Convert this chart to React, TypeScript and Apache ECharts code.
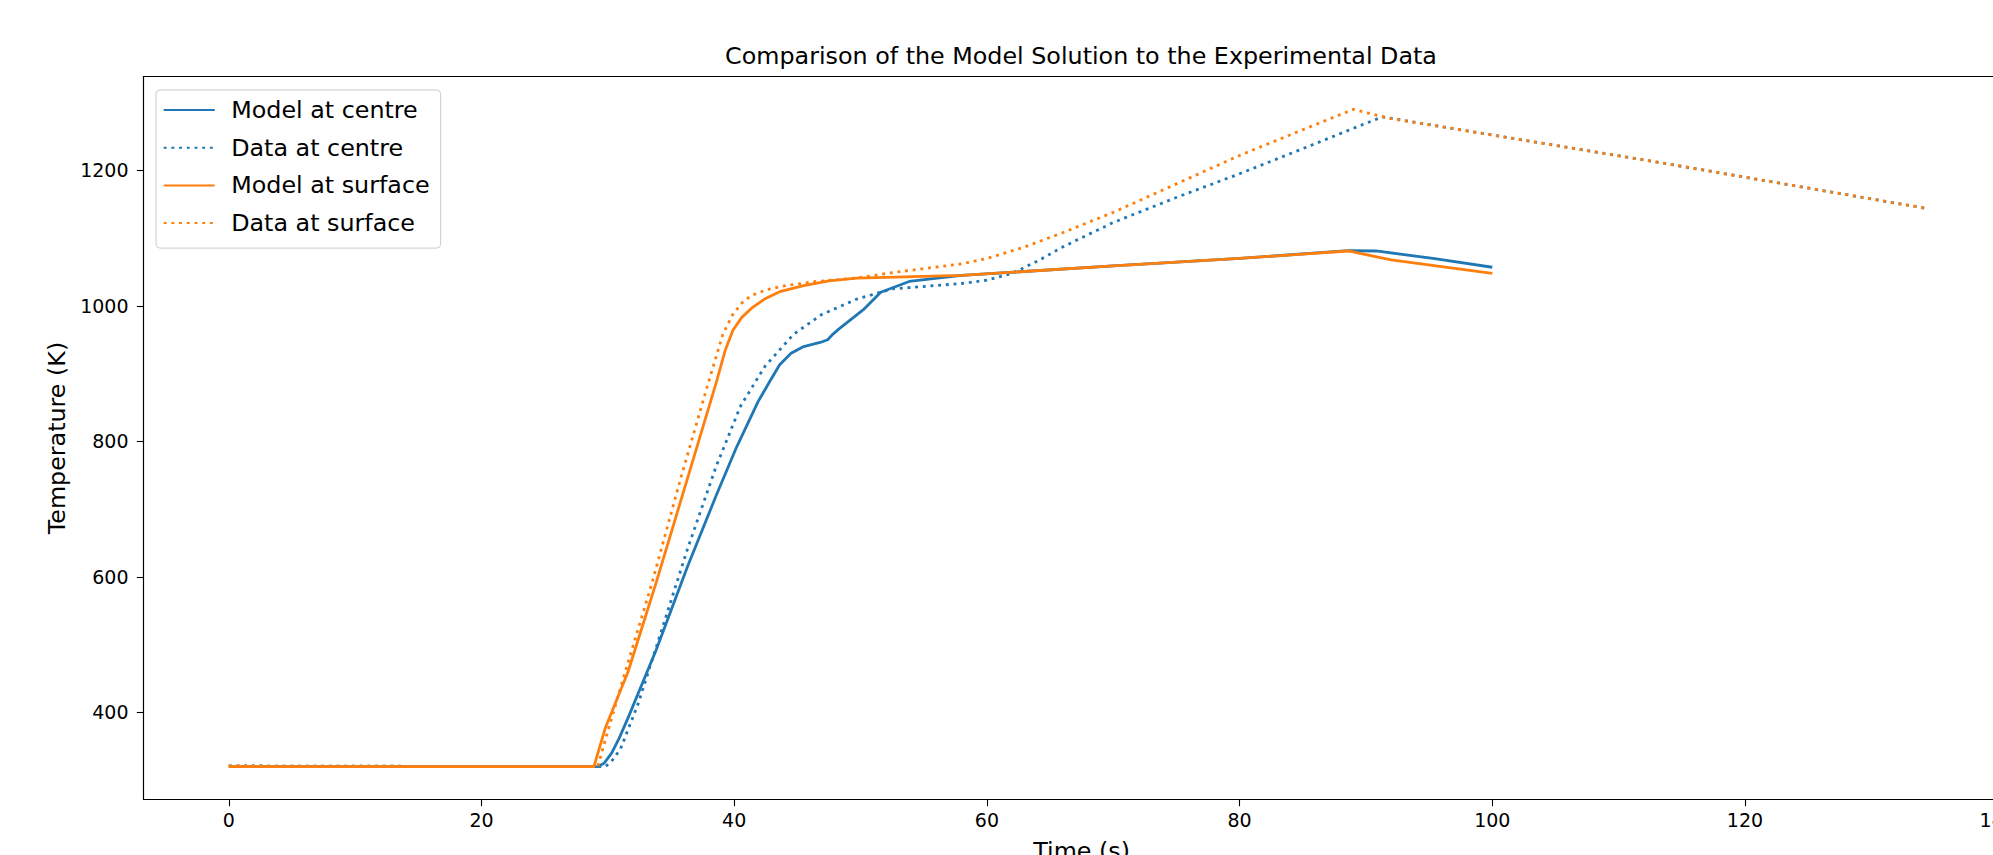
import React, { useEffect, useRef } from "react";
import * as echarts from "echarts";

// ---- Data ----
const seriesNames = ["Model at centre", "Data at centre", "Model at surface", "Data at surface"];
const seriesColors = ["#1f77b4", "#1f77b4", "#ff7f0e", "#ff7f0e"];

const timeModelCentre = [0, 29.2, 29.7, 30.3, 30.9, 31.6, 33.8, 36.3, 38.55, 40.2, 41.9, 42.8, 43.6, 44.5, 45.5, 46.8, 47.4, 47.8, 48.3, 50.2, 51.6, 53.85, 56.6, 58, 70, 80, 88.6, 90.8, 95.3, 100];
const tempModelCentre = [320, 320, 325, 340, 362, 392, 491, 615, 719, 792, 859, 888, 913, 930, 940, 946, 950, 958, 966, 994, 1020, 1036, 1042, 1045, 1059, 1070, 1081.5, 1081, 1070, 1057];

const timeDataCentre = [0, 29.8, 30.3, 31.0, 32.4, 34.1, 36.3, 38.55, 40.5, 42.44, 44.7, 46.9, 49.7, 52.5, 58, 60, 62, 64, 66, 70, 75, 80, 85, 89, 91.3, 112.8, 134.3];
const tempDataCentre = [321, 320, 328, 346, 413, 512, 641, 762, 852, 911, 958, 987, 1010, 1025, 1033, 1038, 1048, 1066, 1087, 1123, 1160, 1195, 1232, 1262, 1279, 1213, 1144];

const timeModelSurface = [0, 28.9, 29.8, 31.6, 33.8, 36.3, 38.55, 39.3, 39.9, 40.6, 41.4, 42.4, 43.6, 45.5, 47.5, 49.7, 58, 70, 80, 88.6, 92, 96, 100];
const tempModelSurface = [320, 320, 377, 460, 590, 745, 885, 935, 964, 983, 997, 1010, 1021, 1030, 1037, 1041, 1045, 1059, 1070, 1081, 1068, 1058, 1048];

const timeDataSurface = [0, 29.2, 29.9, 31.3, 33.48, 35.76, 37.93, 39.1, 39.88, 40.6, 41.33, 42.6, 44.1, 46.5, 49.7, 52.5, 55, 58, 60, 63, 66, 70, 75, 80, 85, 89, 91.8, 112.8, 134.3];
const tempDataSurface = [321, 320, 366, 455, 590, 745, 885, 958, 987, 1004, 1015, 1024, 1030, 1036, 1041, 1049, 1055, 1062, 1070, 1087, 1108, 1138, 1180, 1222, 1260, 1290, 1277, 1213, 1144];

const xTicks = [0, 20, 40, 60, 80, 100, 120, 140];
const yTicks = [400, 600, 800, 1000, 1200];

const pairs = (t: number[], v: number[]) => t.map((x, i) => [x, v[i]]);

const FONT = "DejaVu Sans";
const BIG = 23.8;

export default function App() {
  const ref = useRef<HTMLDivElement>(null);
  useEffect(() => {
    if (!ref.current) return;
    const chart = echarts.init(ref.current, undefined, { renderer: "svg" });
    const allData = [
      pairs(timeModelCentre, tempModelCentre),
      pairs(timeDataCentre, tempDataCentre),
      pairs(timeModelSurface, tempModelSurface),
      pairs(timeDataSurface, tempDataSurface),
    ];
    const dotted = [false, true, false, true];
    chart.setOption({
      animation: false,
      backgroundColor: "#ffffff",
      textStyle: { fontFamily: FONT },
      title: {
        text: "Comparison of the Model Solution to the Experimental Data",
        left: 1081,
        top: 44,
        textAlign: "center",
        padding: 0,
        textStyle: { fontFamily: FONT, fontSize: BIG, fontWeight: "normal", color: "#000" },
      },
      legend: {
        orient: "vertical",
        left: 156,
        top: 90,
        padding: [8, 11, 13, 6.7],
        itemWidth: 51,
        itemHeight: 14,
        itemGap: 13.7,
        borderColor: "#cccccc",
        borderWidth: 1,
        borderRadius: 4,
        backgroundColor: "rgba(255,255,255,0.8)",
        data: seriesNames,
        itemStyle: { color: "rgba(0,0,0,0)", borderWidth: 0, opacity: 0 },
        textStyle: { fontFamily: FONT, fontSize: BIG, color: "#000", lineHeight: 24, padding: [0, 0, 0, 11.5] },
        z: 10,
      },
      grid: {
        left: 143.5,
        top: 76.5,
        width: 1876.3,
        height: 723,
        show: true,
        borderColor: "#000",
        borderWidth: 1.1,
        backgroundColor: "transparent",
        containLabel: false,
        outerBoundsMode: "none",
      },
      xAxis: {
        type: "value",
        min: -6.75,
        max: 141.75,
        name: "Time (s)",
        nameLocation: "middle",
        nameGap: 39,
        nameTextStyle: { fontFamily: FONT, fontSize: BIG, color: "#000" },
        axisLine: { show: true, onZero: false, lineStyle: { color: "#000", width: 1.1 } },
        axisTick: { show: true, length: 6.7, lineStyle: { color: "#000", width: 1.1 }, customValues: xTicks },
        axisLabel: { margin: 11, fontFamily: FONT, fontSize: 19, color: "#000", customValues: xTicks, formatter: (v: number) => String(v) },
        splitLine: { show: false },
      },
      yAxis: {
        type: "value",
        min: 271.5,
        max: 1338.5,
        name: "Temperature (K)",
        nameLocation: "middle",
        nameRotate: 90,
        nameGap: 72,
        nameTextStyle: { fontFamily: FONT, fontSize: BIG, color: "#000" },
        axisLine: { show: true, onZero: false, lineStyle: { color: "#000", width: 1.1 } },
        axisTick: { show: true, length: 6.7, lineStyle: { color: "#000", width: 1.1 }, customValues: yTicks },
        axisLabel: { margin: 15, fontFamily: FONT, fontSize: 19, color: "#000", customValues: yTicks, formatter: (v: number) => String(v) },
        splitLine: { show: false },
      },
      series: seriesNames.map((name, i) => ({
        name,
        type: "line",
        data: allData[i],
        showSymbol: false,
        symbol: "none",
        smooth: false,
        color: seriesColors[i],
        lineStyle: {
          color: seriesColors[i],
          width: 2.8,
          type: dotted[i] ? [2.9, 4.8] : "solid",
          cap: "butt",
          join: "round",
        },
        emphasis: { disabled: true },
      })),
    });
    return () => chart.dispose();
  }, []);
  return (
    <div style={{ position: "fixed", left: 0, top: 0, width: 1993, height: 855, overflow: "hidden", background: "#fff" }}>
      <div ref={ref} style={{ width: 2100, height: 900 }} />
    </div>
  );
}
